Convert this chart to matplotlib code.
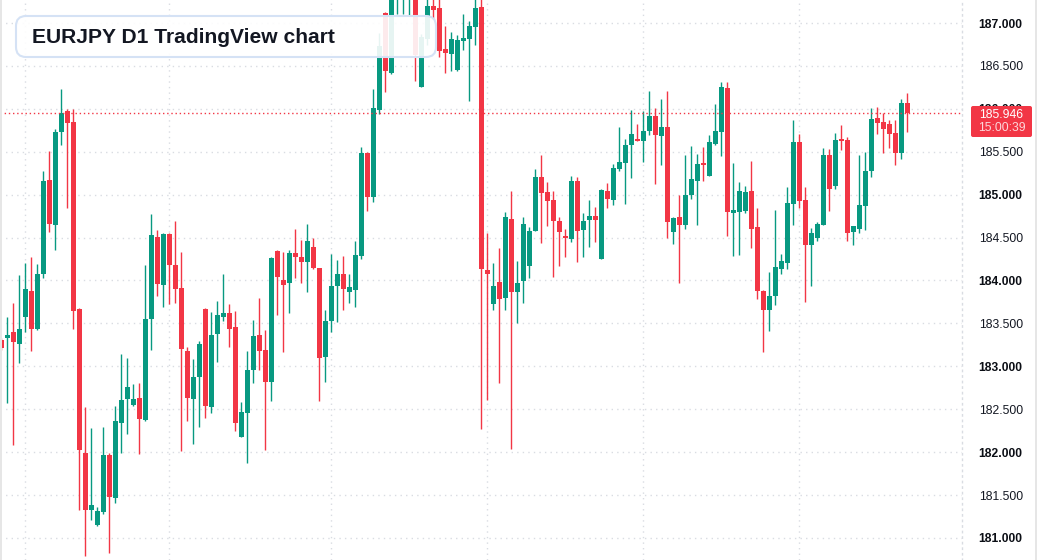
import numpy as np
import matplotlib
matplotlib.use("Agg")
import matplotlib.pyplot as plt
from matplotlib.patches import FancyBboxPatch, Rectangle

plt.rcParams['font.family'] = ['Liberation Sans', 'DejaVu Sans']

# ---------------- data (EURJPY daily candles) ----------------
opens = [
    183.31, 183.33, 183.40, 183.26, 183.57, 183.88, 183.43, 184.08, 185.17, 184.65,
    185.73, 185.97, 185.85, 183.67, 181.99, 181.33, 181.15, 181.30, 181.97, 181.46,
    182.34, 182.62, 182.55, 182.63, 182.37, 183.55, 184.51, 183.95, 184.54, 184.18,
    183.91, 183.18, 182.62, 182.87, 183.67, 182.53, 183.38, 183.57, 183.62, 183.46,
    182.18, 182.45, 182.96, 183.37, 183.19, 182.82, 184.34, 184.01, 183.97, 184.32,
    184.27, 184.22, 184.39, 184.14, 183.11, 183.53, 183.93, 184.08, 183.87, 183.89,
    184.29, 185.49, 184.97, 185.99, 187.12, 186.42, 187.30, 187.40, 187.45, 187.55,
    186.26, 186.81, 187.20, 187.17, 186.70, 186.64, 186.45, 186.79, 186.81, 186.95,
    187.19, 184.12, 183.73, 183.98, 183.80, 184.72, 183.87, 183.99, 184.17, 184.58,
    185.21, 185.03, 184.94, 184.69, 184.52, 184.48, 185.16, 184.59, 184.70, 184.75,
    184.25, 185.04, 184.94, 185.30, 185.37, 185.58, 185.65, 185.62, 185.74, 185.92,
    185.68, 185.79, 184.57, 184.74, 184.65, 185.00, 185.16, 185.37, 185.22, 185.59,
    185.73, 186.24, 184.79, 184.80, 184.81, 185.04, 184.62, 183.88, 183.66, 183.82,
    184.13, 184.20, 184.89, 185.61, 184.94, 184.41, 184.49, 184.65, 185.46, 185.10,
    185.64, 185.64, 184.56, 184.60, 184.87, 185.28, 185.89, 185.85, 185.82, 185.72,
    185.48, 186.07]

highs = [
    183.33, 183.58, 183.74, 184.06, 184.20, 184.27, 184.19, 185.28, 185.51, 185.77,
    186.23, 186.00, 186.00, 183.68, 182.53, 182.28, 181.36, 182.29, 181.99, 182.54,
    183.14, 183.10, 182.79, 182.81, 184.18, 184.77, 184.59, 184.55, 184.55, 184.69,
    184.33, 183.23, 183.09, 183.30, 183.68, 183.63, 183.76, 184.08, 183.73, 183.64,
    182.58, 183.18, 183.54, 183.80, 183.42, 184.27, 184.35, 184.33, 184.36, 184.60,
    184.47, 184.66, 184.50, 184.15, 183.66, 184.31, 184.24, 184.29, 184.08, 184.46,
    185.56, 185.50, 186.23, 186.88, 187.13, 187.40, 187.52, 187.62, 187.66, 187.62,
    186.87, 187.32, 187.30, 187.30, 186.97, 186.90, 186.86, 187.10, 187.02, 187.30,
    187.30, 184.55, 184.20, 184.38, 184.80, 185.04, 184.23, 184.74, 184.62, 185.30,
    185.46, 185.15, 185.04, 184.74, 184.60, 185.22, 185.21, 184.79, 184.94, 184.86,
    185.07, 185.14, 185.36, 185.79, 185.65, 185.99, 185.82, 185.97, 186.21, 186.01,
    186.11, 186.21, 184.74, 185.00, 185.46, 185.57, 185.47, 185.56, 185.70, 186.06,
    186.31, 186.31, 185.37, 185.15, 185.10, 185.39, 184.84, 183.89, 184.10, 184.82,
    184.31, 185.09, 185.87, 185.71, 185.09, 184.61, 184.68, 185.54, 185.53, 185.72,
    185.81, 185.67, 184.64, 185.46, 185.50, 186.01, 186.02, 185.95, 185.87, 185.87,
    186.11, 186.18]

lows = [
    183.19, 182.57, 182.08, 183.04, 183.40, 183.18, 183.42, 184.03, 184.56, 184.36,
    185.58, 184.85, 183.44, 181.33, 180.79, 181.21, 181.14, 181.28, 180.82, 181.41,
    181.99, 182.21, 182.54, 181.98, 182.36, 183.19, 183.82, 183.69, 183.73, 183.74,
    182.01, 182.36, 182.10, 182.29, 182.40, 182.46, 183.05, 183.53, 183.22, 182.25,
    182.18, 181.87, 182.81, 182.96, 182.03, 182.59, 183.60, 183.17, 183.62, 184.03,
    183.97, 183.86, 184.13, 182.59, 182.82, 183.40, 183.52, 183.66, 183.74, 183.69,
    184.25, 184.81, 184.92, 185.94, 186.20, 186.40, 187.10, 187.10, 187.09, 186.32,
    186.25, 186.74, 187.05, 186.60, 186.42, 186.44, 186.44, 186.69, 186.09, 186.74,
    182.27, 182.61, 183.66, 182.80, 183.66, 182.04, 183.50, 183.74, 184.03, 184.58,
    184.44, 184.63, 184.04, 184.17, 184.27, 184.45, 184.21, 184.27, 184.39, 184.45,
    184.25, 184.85, 184.88, 185.27, 184.89, 185.19, 185.62, 185.38, 185.70, 185.12,
    185.35, 184.49, 184.42, 183.97, 184.60, 184.95, 184.65, 185.16, 185.22, 185.58,
    185.45, 184.52, 184.29, 184.30, 184.79, 184.38, 183.78, 183.17, 183.41, 183.72,
    184.08, 184.13, 184.65, 184.85, 183.75, 183.93, 184.46, 184.65, 184.81, 185.07,
    185.52, 184.46, 184.41, 184.55, 184.59, 185.21, 185.71, 185.48, 185.54, 185.35,
    185.41, 185.73]

closes = [
    183.21, 183.37, 183.28, 183.43, 183.90, 183.43, 184.08, 185.16, 184.66, 185.73,
    185.95, 185.84, 183.65, 182.02, 181.32, 181.38, 181.31, 181.97, 181.48, 182.36,
    182.61, 182.76, 182.62, 182.39, 183.55, 184.53, 183.96, 184.54, 184.18, 183.90,
    183.20, 182.63, 182.88, 183.26, 182.54, 183.37, 183.60, 183.62, 183.44, 182.34,
    182.47, 182.96, 183.35, 183.18, 182.82, 184.26, 184.04, 183.95, 184.32, 184.27,
    184.22, 184.46, 184.15, 183.10, 183.53, 183.94, 184.08, 183.90, 183.92, 184.30,
    185.49, 184.97, 186.01, 186.73, 186.44, 187.32, 187.45, 187.55, 187.60, 186.63,
    186.84, 187.20, 187.15, 186.67, 186.65, 186.81, 186.80, 186.83, 186.97, 187.17,
    184.13, 184.08, 183.94, 183.78, 184.74, 183.86, 183.97, 184.66, 184.58, 185.21,
    185.02, 184.93, 184.69, 184.57, 184.49, 185.16, 184.58, 184.69, 184.75, 184.71,
    185.05, 184.95, 185.31, 185.38, 185.58, 185.71, 185.63, 185.74, 185.92, 185.69,
    185.79, 184.68, 184.73, 184.65, 185.00, 185.18, 185.36, 185.34, 185.61, 185.74,
    186.25, 184.80, 184.82, 185.04, 185.03, 184.60, 183.88, 183.66, 183.82, 184.16,
    184.23, 184.90, 185.61, 184.93, 184.41, 184.55, 184.66, 185.46, 185.07, 185.64,
    185.63, 184.55, 184.63, 184.88, 185.28, 185.88, 185.83, 185.77, 185.71, 185.48,
    186.07, 185.946]

price_ticks = [181.0, 181.5, 182.0, 182.5, 183.0, 183.5, 184.0,
               184.5, 185.0, 185.5, 186.0, 186.5, 187.0]
month_starts = [4, 28, 55, 81, 107, 133]   # candle index of vertical grid lines
last_price = 185.946
countdown = "15:00:39"
title = "EURJPY D1 TradingView chart"

# ---------------- styling ----------------
UP = '#089981'
DOWN = '#f23645'
GRID = '#d9dce2'
TXT = '#131722'

W, H = 1037, 560
fig = plt.figure(figsize=(W / 100, H / 100), dpi=100)
fig.patch.set_facecolor('white')
ax = fig.add_axes([0, 0, 962 / W, 1])

o = np.array(opens); h = np.array(highs); l = np.array(lows); c = np.array(closes)
x = np.arange(len(o))
cols = np.where(c >= o, UP, DOWN)

ax.vlines(x, l, h, colors=cols, linewidth=1.0, zorder=2)
body_bottom = np.minimum(o, c)
body_h = np.maximum(np.abs(c - o), 0.014)
ax.bar(x, body_h, bottom=body_bottom, width=0.8, color=cols,
       linewidth=0, zorder=3)

ax.axhline(last_price, color=DOWN, linestyle=(0, (1, 2)), linewidth=1, zorder=4)

ax.set_xlim(-0.222, -0.222 + 962 / 6)
ax.set_ylim(180.743, 187.268)

ax.set_xticks(month_starts)
ax.tick_params(axis='x', length=0, labelbottom=False)
ax.set_yticks(price_ticks)
ax.yaxis.tick_right()
ax.set_yticklabels([f"{v:.3f}" for v in price_ticks])
ax.tick_params(axis='y', length=0, pad=12, labelsize=8.7, labelcolor=TXT)
for v, lab in zip(price_ticks, ax.get_yticklabels()):
    if abs(v - round(v)) < 1e-9:
        lab.set_fontweight('bold')
        lab.set_color('#0b0e15')

ax.grid(True, color=GRID, linestyle=(0, (1, 3)), linewidth=1)
ax.set_axisbelow(True)
for s in ['left', 'top', 'bottom']:
    ax.spines[s].set_visible(False)
ax.spines['right'].set_color(GRID)
ax.spines['right'].set_linestyle((0, (1, 3)))
ax.spines['right'].set_linewidth(1)

inch = fig.dpi_scale_trans

# title box
tb = FancyBboxPatch((0.16, (H - 57) / 100), 4.20, 0.41,
                    boxstyle="round,pad=0,rounding_size=0.1",
                    transform=inch, facecolor=(1, 1, 1, 0.9),
                    edgecolor='#d5e2f5', linewidth=1.5, zorder=5)
fig.add_artist(tb)
fig.text(0.323, (H - 37.5) / 100, title, transform=inch, fontsize=15.1,
         fontweight='bold', color=TXT, ha='left', va='center', zorder=6)

# last price label (covers the 186.000 tick label, as in the original)
pb = FancyBboxPatch((9.71, (H - 137) / 100), 0.61, 0.31,
                    boxstyle="round,pad=0,rounding_size=0.02",
                    transform=inch, facecolor=DOWN, edgecolor='none', zorder=5)
fig.add_artist(pb)
fig.text(10.015, (H - 114.5) / 100, f"{last_price:.3f}", transform=inch,
         fontsize=8.7, color='white', ha='center', va='center', zorder=6)
fig.text(10.015, (H - 128.5) / 100, countdown, transform=inch,
         fontsize=8.7, color=(1, 1, 1, 0.8), ha='center', va='center', zorder=6)

# thin frame edges
fig.add_artist(Rectangle((0, 0), 0.017, H / 100, transform=inch,
                         facecolor='#e6e6e6', edgecolor='none', zorder=7))
fig.add_artist(Rectangle(((W - 2) / 100, 0), 0.02, H / 100, transform=inch,
                         facecolor='#e6e6e6', edgecolor='none', zorder=7))

fig.savefig('out.png', dpi=100)
